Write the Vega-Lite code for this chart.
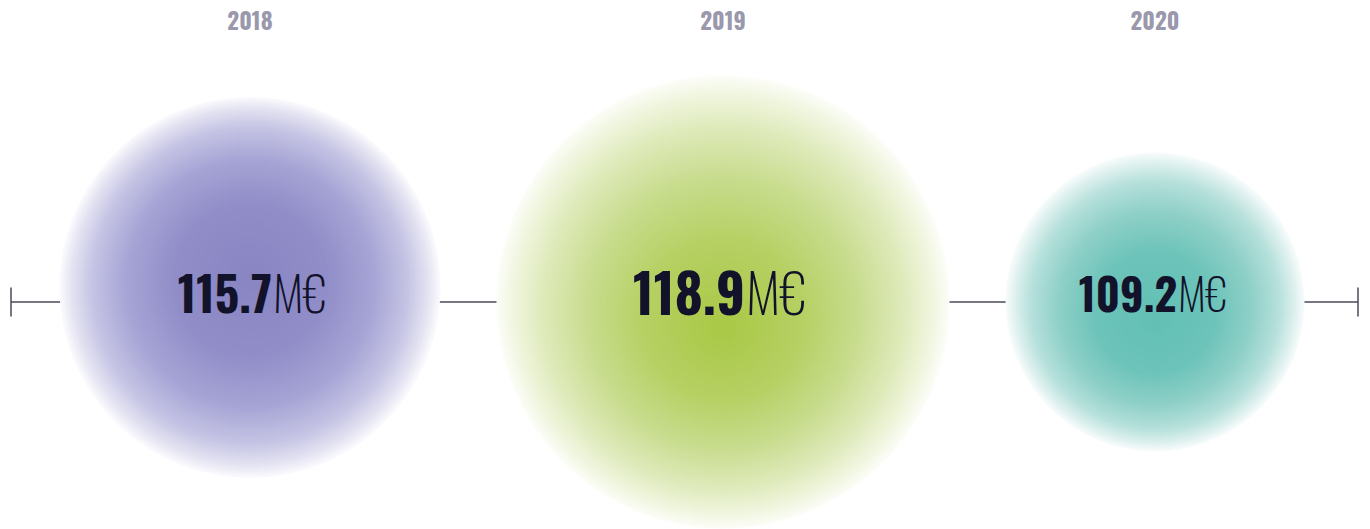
{
  "$schema": "https://vega.github.io/schema/vega-lite/v6.json",
  "width": 1370,
  "height": 529,
  "autosize": {"type": "fit", "contains": "padding"},
  "padding": 0,
  "background": "#ffffff",
  "config": {"view": {"stroke": null}},
  "data": {"values": [
    {"year": 2018, "value": 115.7, "number": "115.7", "unit": "M€"},
    {"year": 2019, "value": 118.9, "number": "118.9", "unit": "M€"},
    {"year": 2020, "value": 109.2, "number": "109.2", "unit": "M€"}
  ]},
  "resolve": {"scale": {"size": "independent"}},
  "layer": [
    {
      "data": {"values": [{}]},
      "mark": {"type": "rule", "stroke": "#4a4a5a", "strokeWidth": 1.3},
      "encoding": {
        "x": {"datum": 2017.5, "type": "quantitative", "axis": null, "scale": {"domain": [2017.5, 2018, 2019, 2020, 2020.5], "range": [11, 250, 723, 1155, 1358], "nice": false, "zero": false}},
        "x2": {"datum": 2020.5},
        "y": {"datum": 0, "type": "quantitative", "axis": null, "scale": {"domain": [-1, 1], "range": [529, 75], "nice": false, "zero": false}}
      }
    },
    {
      "data": {"values": [{"end": 2017.5}, {"end": 2020.5}]},
      "mark": {"type": "rule", "stroke": "#4a4a5a", "strokeWidth": 1.5},
      "encoding": {
        "x": {"field": "end", "type": "quantitative", "axis": null},
        "y": {"datum": -0.0639, "type": "quantitative", "axis": null},
        "y2": {"datum": 0.0639}
      }
    },
    {
      "transform": [{"filter": "datum.year == 2018"}],
      "mark": {"type": "point", "shape": "circle", "filled": true, "opacity": 1, "strokeWidth": 0,
        "fill": {"gradient": "radial", "x1": 0.5, "y1": 0.47, "r1": 0, "x2": 0.5, "y2": 0.5, "r2": 0.5,
          "stops": [
            {"offset": 0, "color": "#8985c3"},
            {"offset": 0.4, "color": "#908dc8"},
            {"offset": 0.65, "color": "#a6a4d5"},
            {"offset": 0.83, "color": "#c5c4e4"},
            {"offset": 0.94, "color": "#e5e4f2"},
            {"offset": 1, "color": "#fbfbfe"}
          ]}},
      "encoding": {
        "x": {"field": "year", "type": "quantitative", "axis": null},
        "y": {"datum": 0.0639, "type": "quantitative", "axis": null},
        "size": {"field": "value", "type": "quantitative", "legend": null, "scale": {"domain": [109.2, 115.7, 118.9], "range": [89401, 145161, 205209], "zero": false, "nice": false}}
      }
    },
    {
      "transform": [{"filter": "datum.year == 2019"}],
      "mark": {"type": "point", "shape": "circle", "filled": true, "opacity": 1, "strokeWidth": 0,
        "fill": {"gradient": "radial", "x1": 0.5, "y1": 0.56, "r1": 0, "x2": 0.5, "y2": 0.5, "r2": 0.5,
          "stops": [
            {"offset": 0, "color": "#a9c845"},
            {"offset": 0.35, "color": "#b6d063"},
            {"offset": 0.6, "color": "#c8dc8e"},
            {"offset": 0.8, "color": "#dfeabb"},
            {"offset": 0.93, "color": "#f0f6e0"},
            {"offset": 1, "color": "#fcfdf8"}
          ]}},
      "encoding": {
        "x": {"field": "year", "type": "quantitative", "axis": null},
        "y": {"datum": 0, "type": "quantitative", "axis": null},
        "size": {"field": "value", "type": "quantitative", "legend": null, "scale": {"domain": [109.2, 115.7, 118.9], "range": [89401, 145161, 205209], "zero": false, "nice": false}}
      }
    },
    {
      "transform": [{"filter": "datum.year == 2020"}],
      "mark": {"type": "point", "shape": "circle", "filled": true, "opacity": 1, "strokeWidth": 0,
        "fill": {"gradient": "radial", "x1": 0.5, "y1": 0.56, "r1": 0, "x2": 0.5, "y2": 0.5, "r2": 0.5,
          "stops": [
            {"offset": 0, "color": "#62bfb4"},
            {"offset": 0.4, "color": "#6cc3b9"},
            {"offset": 0.65, "color": "#8fd0c8"},
            {"offset": 0.83, "color": "#b6e0db"},
            {"offset": 0.94, "color": "#dff1ef"},
            {"offset": 1, "color": "#f8fcfc"}
          ]}},
      "encoding": {
        "x": {"field": "year", "type": "quantitative", "axis": null},
        "y": {"datum": 0, "type": "quantitative", "axis": null},
        "size": {"field": "value", "type": "quantitative", "legend": null, "scale": {"domain": [109.2, 115.7, 118.9], "range": [89401, 145161, 205209], "zero": false, "nice": false}}
      }
    },
    {
      "mark": {"type": "text", "font": "Oswald", "fontWeight": "bold", "fontSize": 23, "fill": "#9a98ac", "align": "center", "baseline": "middle"},
      "encoding": {
        "x": {"field": "year", "type": "quantitative", "axis": null},
        "y": {"datum": 1.229, "type": "quantitative", "axis": null},
        "text": {"field": "year", "type": "nominal"}
      }
    },
    {
      "mark": {"type": "text", "font": "Oswald", "fontWeight": "bold", "fill": "#12122a", "align": "right", "baseline": "middle", "dx": 22},
      "encoding": {
        "x": {"field": "year", "type": "quantitative", "axis": null},
        "y": {"datum": 0.013, "type": "quantitative", "axis": null},
        "text": {"field": "number", "type": "nominal"},
        "size": {"field": "value", "type": "quantitative", "legend": null, "scale": {"domain": [109.2, 115.7, 118.9], "range": [44, 48, 54], "zero": false, "nice": false}}
      }
    },
    {
      "mark": {"type": "text", "font": "Oswald", "fontWeight": 250, "fill": "#12122a", "align": "left", "baseline": "middle", "dx": 23},
      "encoding": {
        "x": {"field": "year", "type": "quantitative", "axis": null},
        "y": {"datum": 0.013, "type": "quantitative", "axis": null},
        "text": {"field": "unit", "type": "nominal"},
        "size": {"field": "value", "type": "quantitative", "legend": null, "scale": {"domain": [109.2, 115.7, 118.9], "range": [44, 48, 54], "zero": false, "nice": false}}
      }
    }
  ]
}
